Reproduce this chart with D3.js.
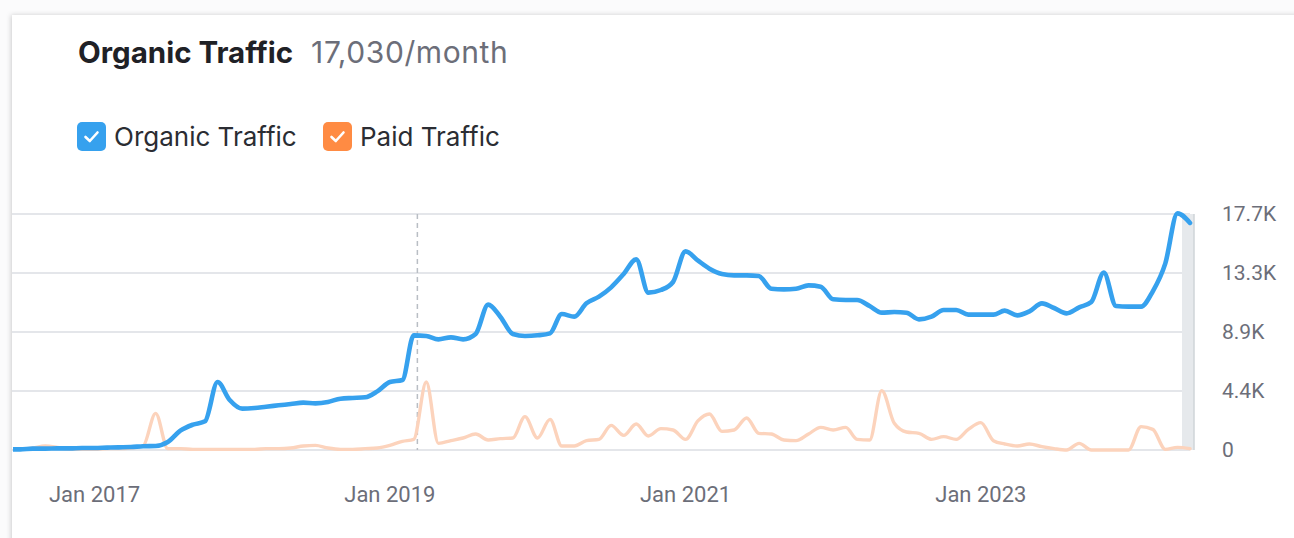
<!DOCTYPE html>
<html lang="en">
<head>
  <meta charset="UTF-8">
  <title>Organic Traffic</title>
  <style>
    html, body { margin: 0; padding: 0; background: #fbfbfc; }
    svg { display: block; font-family: Roboto, "Noto Sans", sans-serif; }
    .head { font-family: Inter, Roboto, sans-serif; }
  </style>
</head>
<body>
  <svg width="1294" height="538"></svg>

  <script src="https://cdn.jsdelivr.net/npm/d3@7"></script>
  <script>
    // monthly values, Jun 2016 .. Jun 2024
    const firstMonth = new Date(2016, 5, 1);
    const organic = [
      50, 50, 100, 100, 120, 120, 150, 150, 180, 200, 220, 280,          // Jun16-May17
      300, 600, 1450, 1900, 2150, 5100, 3750, 3100, 3150, 3250, 3350, 3450, // Jun17-May18
      3550, 3500, 3600, 3850, 3900, 3950, 4400, 5100, 5250, 8600, 8550, 8300, // Jun18-May19
      8450, 8300, 8700, 10900, 10000, 8700, 8550, 8600, 8750, 10200, 10000, 11000, // Jun19-May20
      11500, 12200, 13200, 14300, 11800, 12000, 12600, 14900, 14200, 13600, 13200, 13100, // Jun20-May21
      13100, 13050, 12100, 12050, 12100, 12350, 12250, 11300, 11250, 11250, 10800, 10300, // Jun21-May22
      10350, 10300, 9800, 10000, 10500, 10500, 10150, 10150, 10150, 10450, 10100, 10400, // Jun22-May23
      11000, 10650, 10250, 10700, 11100, 13300, 10800, 10750, 10750, 11900, 14000, 17750, // Jun23-May24
      17030                                                                  // Jun24
    ];
    const paid = [
      50, 50, 150, 300, 200, 50, 50, 50, 100, 100, 150, 300,
      2750, 100, 100, 50, 50, 50, 50, 50, 50, 100, 100, 150,
      300, 350, 150, 50, 50, 100, 150, 350, 650, 800, 5100, 500,
      700, 900, 1200, 750, 850, 900, 2500, 900, 2300, 300, 300, 700,
      800, 1850, 1100, 1950, 1050, 1600, 1500, 800, 2200, 2700, 1400, 1500,
      2400, 1250, 1200, 750, 700, 1200, 1700, 1500, 1700, 800, 750, 4450,
      2000, 1350, 1250, 800, 1000, 800, 1550, 2050, 700, 450, 300, 450,
      250, 100, 0, 500, 0, 0, 0, 0, 1750, 1550, 50, 200,
      100
    ];
    const months = organic.map((d, i) => d3.timeMonth.offset(firstMonth, i));

    const yTicks = [0, 4425, 8850, 13275, 17700];
    const yTickLabels = ["0", "4.4K", "8.9K", "13.3K", "17.7K"];
    const xTicks = [new Date(2017, 0, 1), new Date(2019, 0, 1), new Date(2021, 0, 1), new Date(2023, 0, 1)];
    const xTickLabels = ["Jan 2017", "Jan 2019", "Jan 2021", "Jan 2023"];
    const markerDate = new Date(2019, 2, 10); // dashed note line

    const blue = "#36a1ee", orange = "#ff8b43", paidLine = "#fcd3bc";

    const svg = d3.select("svg");

    // card
    const defs = svg.append("defs");
    const sh = defs.append("filter").attr("id", "shadow")
      .attr("x", "-5%").attr("y", "-5%").attr("width", "110%").attr("height", "110%");
    sh.append("feDropShadow").attr("dx", -1).attr("dy", 0).attr("stdDeviation", 2.5)
      .attr("flood-color", "#000").attr("flood-opacity", 0.18);
    svg.append("rect")
      .attr("x", 12).attr("y", 15).attr("width", 1320).attr("height", 560)
      .attr("fill", "#fff").attr("filter", "url(#shadow)");

    // header
    const title = svg.append("text").attr("class", "head")
      .attr("x", 78).attr("y", 63);
    title.append("tspan").attr("font-size", 29.5).attr("font-weight", 700).attr("fill", "#1f2126")
      .text("Organic Traffic");
    title.append("tspan").attr("dx", 18).attr("font-size", 30).attr("letter-spacing", 0.6)
      .attr("fill", "#6c6e79").text("17,030/month");

    // legend
    const legend = [
      { name: "Organic Traffic", color: blue, x: 77 },
      { name: "Paid Traffic", color: orange, x: 323 }
    ];
    const lg = svg.append("g").selectAll("g").data(legend).join("g")
      .attr("transform", d => `translate(${d.x},122)`);
    lg.append("rect").attr("width", 29).attr("height", 29).attr("rx", 5).attr("fill", d => d.color);
    lg.append("path").attr("d", "M8.5,15 L12.8,19 L20.5,10.5")
      .attr("fill", "none").attr("stroke", "#fff").attr("stroke-width", 2.6)
      .attr("stroke-linecap", "round").attr("stroke-linejoin", "round");
    lg.append("text").attr("class", "head").attr("x", 37).attr("y", 24)
      .attr("font-size", 26)
      .attr("fill", "#2b2d33").text(d => d.name);

    // scales
    const x = d3.scaleTime()
      .domain(d3.extent(months))
      .range([8, 1190]);
    const y = d3.scaleLinear()
      .domain([0, 17700])
      .range([450, 214]);

    // grid lines
    svg.append("g").selectAll("line").data(yTicks).join("line")
      .attr("x1", 12).attr("x2", 1190)
      .attr("y1", d => y(d)).attr("y2", d => y(d))
      .attr("stroke", "#e4e6ea").attr("stroke-width", 2);

    // hover band on last month
    const last = months[months.length - 1];
    svg.append("rect")
      .attr("x", x(last) - 8).attr("y", y(17700)).attr("width", 12).attr("height", y(0) - y(17700))
      .attr("fill", "#e6e9ec");
    svg.append("line")
      .attr("x1", x(last) + 4).attr("x2", x(last) + 4).attr("y1", y(17700)).attr("y2", y(0))
      .attr("stroke", "#cfd4d9").attr("stroke-width", 1.5);

    // dashed marker
    svg.append("line")
      .attr("x1", x(markerDate)).attr("x2", x(markerDate))
      .attr("y1", y(17700)).attr("y2", y(0))
      .attr("stroke", "#b9bec4").attr("stroke-width", 1.5).attr("stroke-dasharray", "5,4");

    // y labels
    svg.append("g").selectAll("text").data(yTicks).join("text")
      .attr("x", 1222).attr("y", d => y(d)).attr("dy", "0.35em")
      .attr("font-size", 21).attr("fill", "#6c6e79")
      .text((d, i) => yTickLabels[i]);

    // x labels
    svg.append("g").selectAll("text").data(xTicks).join("text")
      .attr("x", d => x(d)).attr("y", 494).attr("dy", "0.35em")
      .attr("text-anchor", "middle").attr("font-size", 22).attr("fill", "#6c6e79")
      .text((d, i) => xTickLabels[i]);

    // lines
    defs.append("clipPath").attr("id", "plot")
      .append("rect").attr("x", 13).attr("y", 190).attr("width", 1190).attr("height", 280);

    const line = d3.line()
      .x((d, i) => x(months[i]))
      .y(d => y(d))
      .curve(d3.curveMonotoneX);

    const lines = svg.append("g").attr("clip-path", "url(#plot)")
      .attr("fill", "none").attr("stroke-linejoin", "round").attr("stroke-linecap", "round");
    lines.append("path").datum(paid)
      .attr("d", line).attr("stroke", paidLine).attr("stroke-width", 3.4);
    lines.append("path").datum(organic)
      .attr("d", line).attr("stroke", blue).attr("stroke-width", 4.6);
  </script>
</body>
</html>
